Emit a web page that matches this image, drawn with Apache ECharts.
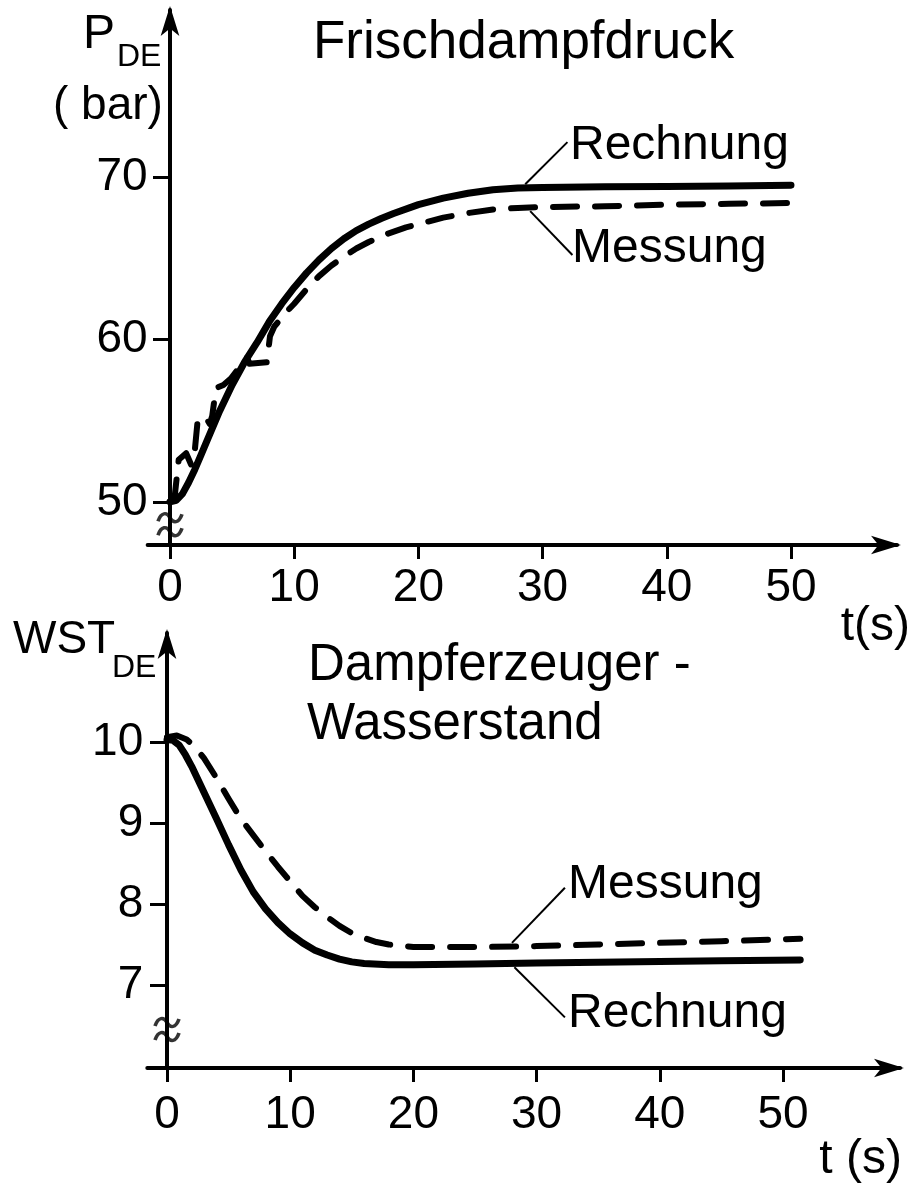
<!DOCTYPE html>
<html><head><meta charset="utf-8">
<script src="https://cdn.jsdelivr.net/npm/echarts@6/dist/echarts.min.js"></script>
<style>html,body{margin:0;padding:0;background:#fff}#c{width:914px;height:1187px}</style>
</head><body><div id="c"></div>
<script>
// ---- data ----
const xTicks = [0, 10, 20, 30, 40, 50];
const pTicks = [50, 60, 70];
const wTicks = [7, 8, 9, 10];

// Frischdampfdruck (bar)
const pTimeR    = [0, 0.5, 1, 1.5, 2, 2.5, 3, 4, 5, 6, 7, 8, 9, 10, 11, 12, 13, 14, 15, 16, 17, 18, 20, 22, 24, 26, 28, 30, 35, 40, 45, 50];
const pRechnung = [50.0, 50.1, 50.5, 51.2, 52.0, 52.9, 53.8, 55.6, 57.2, 58.6, 59.8, 61.1, 62.2, 63.2, 64.1, 64.9, 65.6, 66.2, 66.7, 67.1, 67.45, 67.75, 68.3, 68.7, 69.0, 69.22, 69.33, 69.36, 69.4, 69.42, 69.45, 69.5];
const pTimeM    = [0, 0.4, 0.7, 1.3, 1.7, 1.9, 2.2, 2.8, 3.2, 3.4, 3.7, 4.3, 4.9, 5.6, 6.2, 6.4, 7.8, 8.05, 8.4, 9.5, 10, 11, 12, 13, 14, 15, 16, 17.5, 19, 20.5, 22, 24, 26, 28, 30, 35, 40, 45, 50];
const pMessung  = [50.0, 50.5, 52.6, 53.0, 52.3, 52.4, 54.8, 55.3, 54.8, 55.3, 57.0, 57.2, 57.6, 58.3, 58.9, 58.5, 58.6, 60.2, 60.8, 61.8, 62.2, 63.1, 63.9, 64.55, 65.1, 65.6, 66.0, 66.5, 66.9, 67.2, 67.5, 67.78, 68.0, 68.1, 68.15, 68.2, 68.3, 68.35, 68.4];

// Dampferzeuger-Wasserstand
const wTimeR    = [0, 0.5, 1, 1.5, 2, 3, 4, 5, 6, 7, 8, 9, 10, 11, 12, 13, 14, 15, 16, 18, 20, 25, 30, 35, 40, 45, 51.4];
const wRechnung = [10.03, 10.02, 9.96, 9.84, 9.7, 9.38, 9.06, 8.73, 8.42, 8.15, 7.94, 7.77, 7.63, 7.52, 7.43, 7.37, 7.32, 7.285, 7.265, 7.25, 7.25, 7.26, 7.27, 7.28, 7.29, 7.30, 7.31];
const wTimeM    = [0, 0.8, 1.6, 2.2, 3, 4, 5, 6, 7, 8, 9, 10, 11, 12, 13, 14, 15, 16, 17, 18, 20, 22, 26, 30, 35, 40, 45, 51.4];
const wMessung  = [10.06, 10.08, 10.03, 9.95, 9.8, 9.56, 9.3, 9.05, 8.85, 8.65, 8.46, 8.28, 8.1, 7.96, 7.84, 7.73, 7.64, 7.58, 7.53, 7.5, 7.47, 7.47, 7.47, 7.48, 7.5, 7.52, 7.54, 7.57];

// annotation leader lines (data coordinates)
const pLeaderR = [[28.6, 69.55], [32.0, 72.15]];
const pLeaderM = [[29.0, 67.9], [32.4, 65.2]];
const wLeaderM = [[28.0, 7.52], [32.3, 8.2]];
const wLeaderR = [[28.2, 7.22], [32.3, 6.6]];
const pBreak = [[0, 48.6]];
const wBreak = [[0, 6.45]];

// ---- layout ----
const FONT = '"Liberation Sans", Arial, sans-serif';
const G1 = {x0: 170, pps: 12.42, xMin: -1.8, xRight: 897, yTop: 10, yBot: 545, yMin: 47.35, yMax: 80.28};
const G2 = {x0: 167, pps: 12.32, xMin: -1.6, xRight: 900, yTop: 633, yBot: 1068, yMin: 5.975, yMax: 11.346};
function grid(g) {
  const left = g.x0 + g.xMin * g.pps;
  return {left: left, top: g.yTop, width: g.xRight - left, height: g.yBot - g.yTop, outerBoundsMode: 'none', containLabel: false};
}
const zip = (a, b) => a.map((v, i) => [v, b[i]]);
const axisLine = {show: true, symbol: ['none', 'arrow'], symbolSize: [14, 30], symbolOffset: [0, 4], lineStyle: {color: '#000', width: 4}};
function xAx(i, g, margin) {
  return {type: 'value', gridIndex: i, min: g.xMin, max: (g.xRight - g.x0) / g.pps,
    axisLine: Object.assign({}, axisLine, {onZero: false}),
    axisTick: {show: true, customValues: xTicks, length: 14, lineStyle: {color: '#000', width: 3}},
    axisLabel: {show: true, customValues: xTicks, margin: margin, fontSize: 46, fontFamily: FONT, color: '#000'},
    splitLine: {show: false}};
}
function yAx(i, g, ticks, margin) {
  return {type: 'value', gridIndex: i, min: g.yMin, max: g.yMax,
    axisLine: Object.assign({}, axisLine, {onZero: true}),
    axisTick: {show: true, customValues: ticks, length: 17, lineStyle: {color: '#000', width: 3}},
    axisLabel: {show: true, customValues: ticks, margin: margin, fontSize: 46, fontFamily: FONT, color: '#000'},
    splitLine: {show: false}};
}
const solid = {color: '#000', width: 7, type: 'solid', cap: 'round', join: 'round'};
const dashed = {color: '#000', width: 6, type: [24, 18], cap: 'round', join: 'round'};
const leader = (d) => ({silent: true, symbol: ['none', 'none'], label: {show: false},
  lineStyle: {color: '#000', width: 2, type: 'solid'}, emphasis: {disabled: true},
  data: [[{coord: d[0]}, {coord: d[1]}]]});
const breakSym = 'path://M0,9 C3,1 8,1 11,6 C14,11 19,11 22,3 M0,21 C3,13 8,13 11,18 C14,23 19,23 22,15';
function txt(text, x, y, size, align) {
  return {type: 'text', x: x, y: y, silent: true,
    style: {text: text, font: size + 'px ' + FONT, fill: '#000', textAlign: align || 'left', textVerticalAlign: 'middle'}};
}

const chart = echarts.init(document.getElementById('c'), null, {renderer: 'canvas'});
chart.setOption({
  backgroundColor: '#fff',
  animation: false,
  grid: [grid(G1), grid(G2)],
  xAxis: [xAx(0, G1, 20), xAx(1, G2, 24)],
  yAxis: [yAx(0, G1, pTicks, 0), yAx(1, G2, wTicks, 4)],
  series: [
    {name: 'Rechnung P', type: 'line', xAxisIndex: 0, yAxisIndex: 0, data: zip(pTimeR, pRechnung),
     showSymbol: false, smooth: false, lineStyle: solid, markLine: leader(pLeaderR), z: 3},
    {name: 'Messung P', type: 'line', xAxisIndex: 0, yAxisIndex: 0, data: zip(pTimeM, pMessung),
     showSymbol: false, smooth: false, lineStyle: dashed, markLine: leader(pLeaderM), z: 3},
    {name: 'Rechnung W', type: 'line', xAxisIndex: 1, yAxisIndex: 1, data: zip(wTimeR, wRechnung),
     showSymbol: false, smooth: false, lineStyle: solid, markLine: leader(wLeaderR), z: 3},
    {name: 'Messung W', type: 'line', xAxisIndex: 1, yAxisIndex: 1, data: zip(wTimeM, wMessung),
     showSymbol: false, smooth: false, lineStyle: dashed, markLine: leader(wLeaderM), z: 3},
    {type: 'scatter', xAxisIndex: 0, yAxisIndex: 0, data: pBreak, symbol: breakSym, symbolSize: [24, 22], silent: true,
     itemStyle: {color: 'rgba(0,0,0,0)', borderColor: '#000', borderWidth: 3.5}, z: 6},
    {type: 'scatter', xAxisIndex: 1, yAxisIndex: 1, data: wBreak, symbol: breakSym, symbolSize: [24, 22], silent: true,
     itemStyle: {color: 'rgba(0,0,0,0)', borderColor: '#000', borderWidth: 3.5}, z: 6}
  ],
  graphic: [
    txt('P', 83, 35, 48), txt('DE', 117, 57, 32), txt('( bar)', 53, 106, 46),
    txt('Frischdampfdruck', 313, 43, 53),
    txt('Rechnung', 570, 146, 48), txt('Messung', 572, 249, 48),
    txt('t(s)', 910, 627, 48, 'right'),
    txt('WST', 13, 640, 46), txt('DE', 112, 668, 32),
    txt('Dampferzeuger -', 308, 666, 51), txt('Wasserstand', 307, 725, 51),
    txt('Messung', 568, 885, 48), txt('Rechnung', 568, 1014, 48),
    txt('t (s)', 902, 1160, 48, 'right')
  ]
});
</script></body></html>
